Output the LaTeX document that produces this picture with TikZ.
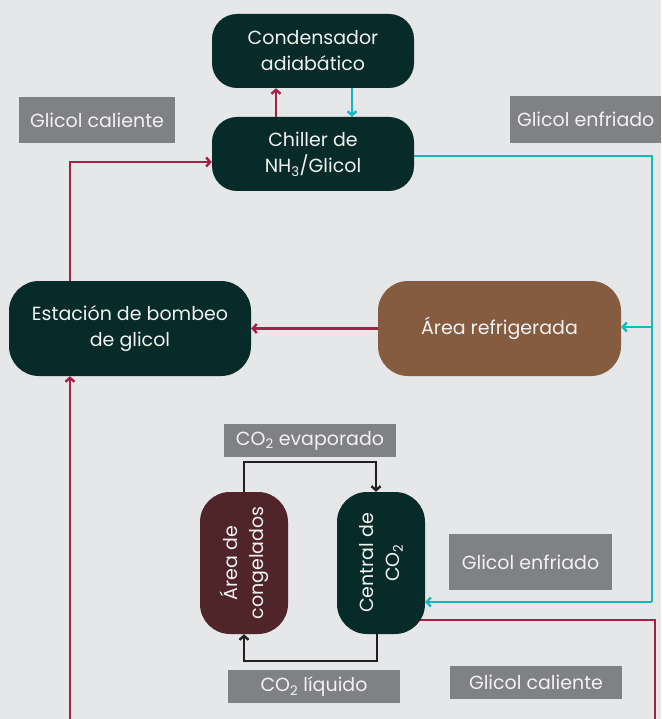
\documentclass[tikz,border=0pt]{standalone}
\usepackage{fontspec}
\setmainfont{Poppins}
\usetikzlibrary{arrows.meta}
\definecolor{bgc}{HTML}{E6E7E8}
\definecolor{dkgreen}{HTML}{062B28}
\definecolor{brownc}{HTML}{855C40}
\definecolor{maroonc}{HTML}{4F2529}
\definecolor{greyc}{HTML}{808184}
\definecolor{redc}{HTML}{A61F45}
\definecolor{cyanc}{HTML}{14B8C0}
\definecolor{blackc}{HTML}{231F20}
\definecolor{txt}{HTML}{F2F2F2}
\pgfdeclarelayer{bglayer}
\pgfdeclarelayer{lines}
\pgfsetlayers{bglayer,lines,main}
\tikzset{
  box/.style={rounded corners=25pt, inner sep=0pt, text=txt, align=center, font=\fontsize{19}{26}\selectfont},
  rtxt/.style={rotate=90, text=txt, align=center, font=\fontsize{19}{26}\selectfont},
  lbl/.style={fill=greyc, inner sep=0pt, text=txt, align=center, font=\fontsize{19}{24}\selectfont},
  flow/.style={line width=2.7pt, -{Straight Barb[length=4pt,width=9pt,line width=2.4pt]}},
  plain/.style={line width=2.7pt},
}
\begin{document}
\begin{tikzpicture}[x=1pt,y=-1pt]
\begin{pgfonlayer}{bglayer}
\fill[bgc] (0,0) rectangle (661,719);
\end{pgfonlayer}
\useasboundingbox (0,0) rectangle (661,719);
% nodes
\node[box, fill=dkgreen, minimum width=202pt, minimum height=74pt] (cond) at (313,51) {Condensador\\adiabático};
\node[box, fill=dkgreen, minimum width=202pt, minimum height=74pt] (chill) at (313,154) {Chiller de\\NH\textsubscript{3}/Glicol};
\node[box, fill=dkgreen, rounded corners=30pt, minimum width=242pt, minimum height=95pt] (est) at (130,328.5) {Estación de bombeo\\de glicol};
\node[box, fill=brownc, rounded corners=30pt, minimum width=243pt, minimum height=95pt] (ref) at (499.5,328.5) {Área refrigerada};
\node[box, fill=maroonc, rounded corners=30pt, minimum width=88pt, minimum height=142pt] (cong) at (244,563) {};
\node[rtxt] (congt) at (cong.center) {Área de\\congelados};
\node[box, fill=dkgreen, rounded corners=30pt, minimum width=88pt, minimum height=142pt] (cen) at (381,563) {};
\node[rtxt] (cent) at (cen.center) {Central de\\CO\textsubscript{2}};
% labels
\node[lbl, minimum width=156pt, minimum height=46pt] (l1) at (97,120) {Glicol caliente};
\node[lbl, minimum width=151pt, minimum height=47pt, anchor=west] (l2) at (510,119.5) {Glicol enfriado};
\node[lbl, minimum width=172pt, minimum height=33pt] (l3) at (310,440.5) {CO\textsubscript{2} evaporado};
\node[lbl, minimum width=163pt, minimum height=56pt] (l4) at (530.5,562) {Glicol enfriado};
\node[lbl, minimum width=172pt, minimum height=33pt] (l5) at (314,686.5) {CO\textsubscript{2} líquido};
\node[lbl, minimum width=172pt, minimum height=33pt] (l6) at (536,682.5) {Glicol caliente};
% coordinates
\coordinate (r1) at (70,162);
\coordinate (u1) at (276,0);
\coordinate (d1) at (352,0);
\coordinate (c1) at (652,156);
\coordinate (c2) at (652,327);
\coordinate (c3) at (652,602);
\coordinate (h0) at (400,620);
\coordinate (h1) at (655,620);
\coordinate (h2) at (655,719);
\coordinate (b1) at (70,719);
\coordinate (k1) at (244,462);
\coordinate (k2) at (376,462);
\coordinate (k3) at (377,661);
\coordinate (k4) at (244,661);
\begin{pgfonlayer}{lines}
\draw[flow, redc] (est.north -| r1) -- (r1) -- (chill.west |- r1);
\draw[flow, redc] (chill.north -| u1) -- (cond.south -| u1);
\draw[flow, cyanc] (cond.south -| d1) -- (chill.north -| d1);
\draw[plain, cyanc] (chill.east |- c1) -- (c1) -- (c3);
\draw[flow, cyanc] (c2) -- (ref.east |- c2);
\draw[flow, cyanc] (c3) -- (cen.east |- c3);
\draw[flow, redc] (ref.west) -- (est.east);
\draw[plain, redc] (h0) -- (h1) -- (h2);
\draw[flow, redc] (b1) -- (est.south -| b1);
\draw[flow, blackc] (cong.north -| k1) -- (k1) -- (k2) -- (cen.north -| k2);
\draw[flow, blackc] (cen.south -| k3) -- (k3) -- (k4) -- (cong.south -| k4);
\end{pgfonlayer}
\end{tikzpicture}
\end{document}
